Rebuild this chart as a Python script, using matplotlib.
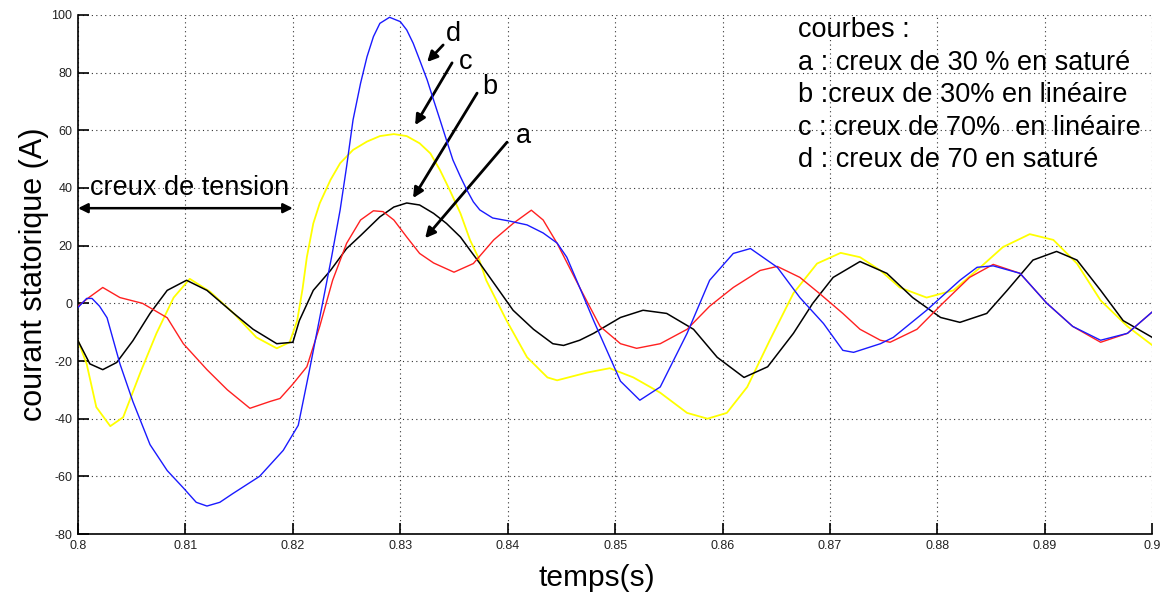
import matplotlib
matplotlib.use("Agg")
import matplotlib.pyplot as plt

plt.rcParams['font.family'] = ['Liberation Sans', 'DejaVu Sans']
plt.rcParams['axes.unicode_minus'] = False

# courbe d : creux de 70 % en saturé (bleu)
t_d = [0.8000, 0.8008, 0.8013, 0.8020, 0.8027, 0.8039, 0.8051, 0.8067, 0.8083, 0.8098,
       0.8110, 0.8120, 0.8132, 0.8144, 0.8169, 0.8191, 0.8205, 0.8215, 0.8225, 0.8236,
       0.8244, 0.8250, 0.8256, 0.8263, 0.8269, 0.8275, 0.8281, 0.8290, 0.8300, 0.8306,
       0.8312, 0.8318, 0.8325, 0.8331, 0.8337, 0.8343, 0.8349, 0.8356, 0.8362, 0.8368,
       0.8374, 0.8386, 0.8402, 0.8418, 0.8433, 0.8446, 0.8455, 0.8467, 0.8480, 0.8505,
       0.8523, 0.8542, 0.8567, 0.8588, 0.8610, 0.8626, 0.8651, 0.8672, 0.8694, 0.8712,
       0.8722, 0.8747, 0.8759, 0.8790, 0.8821, 0.8837, 0.8852, 0.8877, 0.8902, 0.8926,
       0.8952, 0.8977, 0.9000]
i_d = [-1.4, 1.7, 1.7, -1.0, -5.0, -21.0, -34.0, -49.0, -58.0, -64.0,
       -69.0, -70.3, -69.0, -66.0, -60.0, -51.0, -42.3, -24.0, -5.0, 16.0,
       32.4, 47.4, 63.6, 76.3, 85.5, 92.5, 97.1, 99.2, 97.7, 94.8,
       90.2, 84.4, 77.5, 70.5, 63.6, 56.6, 49.7, 43.9, 39.3, 35.2,
       32.4, 29.6, 28.5, 27.2, 24.4, 20.9, 16.0, 5.5, -6.0, -27.0,
       -33.6, -29.0, -10.4, 8.0, 17.3, 19.0, 12.5, 2.0, -7.0, -16.3,
       -17.0, -14.0, -11.8, -2.4, 8.0, 12.5, 13.0, 10.4, 0.0, -8.0,
       -12.8, -10.4, -3.0]

# courbe a : creux de 30 % en saturé (rouge)
t_a = [0.8000, 0.8010, 0.8023, 0.8039, 0.8060, 0.8083, 0.8098, 0.8120, 0.8139, 0.8160,
       0.8179, 0.8188, 0.8200, 0.8213, 0.8225, 0.8237, 0.8250, 0.8263, 0.8275, 0.8284,
       0.8294, 0.8306, 0.8318, 0.8331, 0.8350, 0.8368, 0.8387, 0.8405, 0.8422, 0.8433,
       0.8446, 0.8467, 0.8486, 0.8505, 0.8520, 0.8542, 0.8567, 0.8588, 0.8610, 0.8635,
       0.8651, 0.8672, 0.8690, 0.8712, 0.8728, 0.8747, 0.8756, 0.8781, 0.8805, 0.8830,
       0.8852, 0.8877, 0.8902, 0.8926, 0.8952, 0.8977, 0.9000]
i_a = [-1.0, 2.0, 5.5, 2.0, 0.0, -5.0, -14.0, -23.0, -30.0, -36.4,
       -34.0, -33.0, -28.0, -22.0, -8.0, 8.0, 20.8, 28.9, 32.1, 31.8,
       28.9, 23.0, 17.3, 14.0, 10.8, 13.8, 22.0, 27.7, 32.3, 28.9,
       20.8, 5.5, -8.0, -14.0, -15.6, -14.0, -9.0, -1.0, 5.5, 11.4,
       12.8, 9.0, 3.5, -3.5, -9.0, -12.8, -13.5, -9.0, 0.0, 9.0,
       13.5, 10.4, 0.0, -8.0, -13.5, -10.4, -3.0]

# courbe c : creux de 70 % en linéaire (jaune)
t_c = [0.8000, 0.8008, 0.8017, 0.8030, 0.8042, 0.8058, 0.8073, 0.8089, 0.8104, 0.8123,
       0.8145, 0.8166, 0.8185, 0.8197, 0.8204, 0.8209, 0.8213, 0.8219, 0.8225, 0.8235,
       0.8244, 0.8256, 0.8269, 0.8281, 0.8294, 0.8306, 0.8318, 0.8328, 0.8337, 0.8346,
       0.8356, 0.8365, 0.8373, 0.8380, 0.8399, 0.8418, 0.8437, 0.8446, 0.8474, 0.8495,
       0.8517, 0.8542, 0.8567, 0.8586, 0.8604, 0.8623, 0.8644, 0.8666, 0.8688, 0.8710,
       0.8728, 0.8747, 0.8765, 0.8790, 0.8815, 0.8840, 0.8861, 0.8886, 0.8908, 0.8930,
       0.8952, 0.8977, 0.9000]
i_c = [-13.0, -21.0, -36.0, -42.6, -39.5, -24.0, -10.4, 2.0, 8.5, 4.0,
       -3.5, -11.8, -15.6, -13.5, -6.0, 5.0, 16.0, 27.7, 34.7, 42.8,
       48.6, 53.2, 56.1, 58.0, 58.7, 58.0, 55.5, 52.0, 46.2, 39.3,
       31.2, 21.9, 15.6, 8.0, -6.0, -18.7, -25.7, -26.7, -24.0, -22.5,
       -25.7, -31.0, -38.0, -40.0, -38.0, -29.0, -12.8, 3.5, 13.8, 17.5,
       16.0, 11.4, 5.5, 2.0, 4.5, 12.5, 19.5, 24.0, 22.0, 13.8,
       1.0, -8.0, -14.5]

# courbe b : creux de 30 % en linéaire (noir)
t_b = [0.8000, 0.8011, 0.8023, 0.8036, 0.8051, 0.8067, 0.8083, 0.8101, 0.8120, 0.8145,
       0.8163, 0.8185, 0.8200, 0.8206, 0.8219, 0.8235, 0.8250, 0.8263, 0.8281, 0.8294,
       0.8306, 0.8318, 0.8331, 0.8343, 0.8356, 0.8365, 0.8374, 0.8390, 0.8405, 0.8424,
       0.8442, 0.8452, 0.8467, 0.8480, 0.8505, 0.8526, 0.8548, 0.8573, 0.8595, 0.8620,
       0.8642, 0.8666, 0.8684, 0.8703, 0.8728, 0.8753, 0.8777, 0.8803, 0.8821, 0.8846,
       0.8865, 0.8889, 0.8911, 0.8930, 0.8952, 0.8973, 0.9000]
i_b = [-13.0, -21.0, -23.0, -20.5, -13.0, -3.5, 4.5, 8.0, 4.5, -3.5,
       -9.0, -14.0, -13.5, -6.0, 4.5, 11.4, 19.0, 23.5, 30.0, 33.4,
       34.8, 34.1, 31.2, 27.7, 23.0, 18.4, 13.9, 5.5, -2.4, -9.0,
       -14.0, -14.6, -12.8, -10.4, -4.9, -2.4, -3.5, -9.0, -18.7, -25.7,
       -22.0, -10.4, 0.0, 9.0, 14.5, 10.4, 2.0, -4.9, -6.6, -3.5,
       4.5, 15.0, 18.0, 15.0, 4.5, -6.0, -11.8]

x_ticks = [0.80, 0.81, 0.82, 0.83, 0.84, 0.85, 0.86, 0.87, 0.88, 0.89, 0.90]
x_labels = ['0.8', '0.81', '0.82', '0.83', '0.84', '0.85', '0.86', '0.87', '0.88', '0.89', '0.9']
y_ticks = [-80, -60, -40, -20, 0, 20, 40, 60, 80, 100]

legende = ["courbes :",
           "a : creux de 30 % en saturé",
           "b :creux de 30% en linéaire",
           "c : creux de 70%  en linéaire",
           "d : creux de 70 en saturé"]

fig = plt.figure(figsize=(11.65, 5.97), dpi=100)
ax = fig.add_axes([0.067, 0.1055, 0.922, 0.8694])

ax.plot(t_b, i_b, color='black', lw=1.1, zorder=3)
ax.plot(t_c, i_c, color='#ffff00', lw=1.3, zorder=2)
ax.plot(t_a, i_a, color='#ff2020', lw=1.0, zorder=4)
ax.plot(t_d, i_d, color='#1a1aff', lw=1.0, zorder=5)

ax.set_xlim(0.8, 0.9)
ax.set_ylim(-80, 100)
ax.set_xticks(x_ticks)
ax.set_xticklabels(x_labels)
ax.set_yticks(y_ticks)
ax.tick_params(direction='in', length=8, width=1.2, labelsize=9,
               labelcolor='#222222', pad=4)
ax.grid(True, color='#333333', linestyle=(0, (1, 3)), lw=0.8)
ax.spines['top'].set_visible(False)
ax.spines['right'].set_visible(False)
ax.spines['left'].set_linewidth(1.2)
ax.spines['bottom'].set_linewidth(1.2)

ax.set_xlabel("temps(s)", fontsize=21.5)
ax.set_ylabel("courant statorique (A)", fontsize=22)
ax.xaxis.set_label_coords(0.483, -0.058)
ax.yaxis.set_label_coords(-0.027, 0.5)

# zone du creux de tension
ax.annotate("", xy=(0.8, 33), xytext=(0.82, 33),
            arrowprops=dict(arrowstyle='<|-|>', color='black', lw=1.8,
                            mutation_scale=14, shrinkA=0, shrinkB=0))
ax.text(0.8011, 40, "creux de tension", fontsize=19.5, va='center', ha='left')

# flèches vers les courbes
fleches = [("d", (0.83399, 89.6), (0.83250, 83.7), (0.83492, 93.5)),
           ("c", (0.83482, 83.4), (0.83138, 61.8), (0.83610, 83.6)),
           ("b", (0.83715, 72.9), (0.83119, 36.5), (0.83836, 75.0)),
           ("a", (0.83994, 55.9), (0.83231, 22.6), (0.84143, 57.9))]
for nom, queue, tete, pos in fleches:
    ax.annotate("", xy=tete, xytext=queue,
                arrowprops=dict(arrowstyle='-|>', color='black', lw=2,
                                mutation_scale=15, shrinkA=0, shrinkB=0))
    ax.text(pos[0], pos[1], nom, fontsize=19.5, ha='center', va='center')

for k, ligne in enumerate(legende):
    ax.text(0.86704, 94.8 - k * 11.3, ligne, fontsize=19.5, ha='left', va='center')

fig.savefig("out.png", dpi=100)
